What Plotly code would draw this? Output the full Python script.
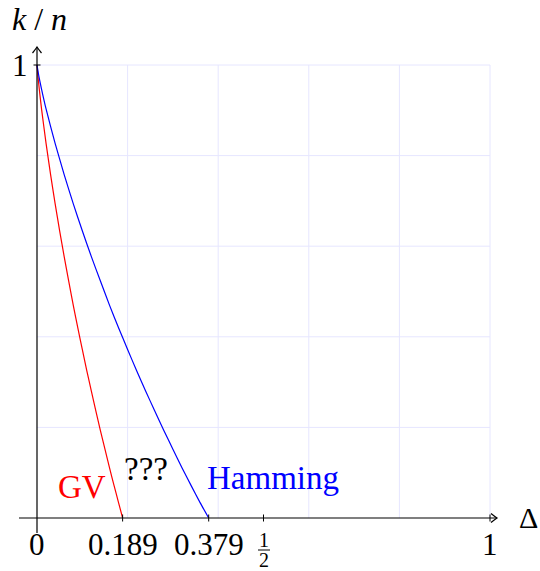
import plotly.graph_objects as go

# ---- data ----
gv_delta = [0, 0.002, 0.005, 0.01, 0.02, 0.03, 0.04, 0.05, 0.06, 0.07, 0.08, 0.09,
            0.10, 0.11, 0.12, 0.13, 0.14, 0.15, 0.16, 0.17, 0.18, 0.189]
gv_rate = [1, 0.976, 0.947, 0.903, 0.827, 0.758, 0.694, 0.634, 0.577, 0.523, 0.470, 0.420,
           0.372, 0.325, 0.280, 0.236, 0.193, 0.152, 0.111, 0.072, 0.034, 0]

ham_delta = [0, 0.004, 0.01, 0.02, 0.04, 0.06, 0.08, 0.10, 0.12, 0.14, 0.16, 0.18,
             0.20, 0.22, 0.24, 0.26, 0.28, 0.30, 0.32, 0.34, 0.36, 0.379]
ham_rate = [1, 0.976, 0.947, 0.903, 0.827, 0.758, 0.694, 0.634, 0.577, 0.523, 0.470, 0.420,
            0.372, 0.325, 0.280, 0.236, 0.193, 0.152, 0.111, 0.072, 0.034, 0]

grid_vals = [0.2, 0.4, 0.6, 0.8, 1.0]
xtick_vals = [0, 0.189, 0.379, 1]
xtick_text = ["0", "0.189", "0.379", "1"]
half_tick = 0.5
ytick_vals = [1]
ytick_text = ["1"]

# ---- figure geometry (pixel -> data helpers) ----
W, H = 540, 571
X0PX, Y0PX, UNIT = 37, 518, 453


def px_x(p):
    return (p - X0PX) / UNIT


def px_y(p):
    return (Y0PX - p) / UNIT


FONT = "Liberation Serif"
GRID = "rgb(230,230,255)"
FS = 32

fig = go.Figure()
fig.add_trace(go.Scatter(x=gv_delta, y=gv_rate, mode="lines",
                         line=dict(color="#ff0000", width=1.2, shape="spline", smoothing=0.5),
                         hoverinfo="skip", showlegend=False))
fig.add_trace(go.Scatter(x=ham_delta, y=ham_rate, mode="lines",
                         line=dict(color="#0000ff", width=1.2, shape="spline", smoothing=0.5),
                         hoverinfo="skip", showlegend=False))

shapes = []
for g in grid_vals:
    shapes.append(dict(type="line", x0=g, x1=g, y0=0, y1=1, layer="below",
                       line=dict(color=GRID, width=1)))
    shapes.append(dict(type="line", x0=0, x1=1, y0=g, y1=g, layer="below",
                       line=dict(color=GRID, width=1)))

# axes
ax_line = dict(color="black", width=1.2)
x_tip = px_x(497)
y_tip = px_y(47)
shapes.append(dict(type="line", x0=px_x(19), x1=x_tip, y0=0, y1=0, layer="above", line=ax_line))
shapes.append(dict(type="line", x0=0, x1=0, y0=px_y(533), y1=y_tip, layer="above", line=ax_line))
a, b = 6 / UNIT, 4.5 / UNIT
shapes.append(dict(type="path", layer="above", line=ax_line,
                   path=f"M {x_tip - a},{b} Q {x_tip - a * 0.3},{b * 0.25} {x_tip},0 "
                        f"Q {x_tip - a * 0.3},{-b * 0.25} {x_tip - a},{-b}"))
shapes.append(dict(type="path", layer="above", line=ax_line,
                   path=f"M {-b},{y_tip - a} Q {-b * 0.25},{y_tip - a * 0.3} 0,{y_tip} "
                        f"Q {b * 0.25},{y_tip - a * 0.3} {b},{y_tip - a}"))

# ticks
t = 3.5 / UNIT
for v in xtick_vals[1:] + [half_tick]:
    shapes.append(dict(type="line", x0=v, x1=v, y0=-t, y1=t, layer="above",
                       line=dict(color="black", width=1)))
for v in ytick_vals:
    shapes.append(dict(type="line", x0=-t, x1=t, y0=v, y1=v, layer="above",
                       line=dict(color="black", width=1)))

# fraction bar for 1/2
shapes.append(dict(type="line", x0=px_x(258), x1=px_x(270), y0=px_y(550), y1=px_y(550),
                   layer="above", line=dict(color="black", width=1)))

annotations = []
for v, s in zip(xtick_vals, xtick_text):
    annotations.append(dict(x=v, y=px_y(544), text=s, showarrow=False,
                            xanchor="center", yanchor="middle",
                            font=dict(family=FONT, size=31, color="black")))
annotations.append(dict(x=half_tick, y=px_y(540), text="1", showarrow=False,
                        xanchor="center", yanchor="middle",
                        font=dict(family=FONT, size=20, color="black")))
annotations.append(dict(x=half_tick, y=px_y(560), text="2", showarrow=False,
                        xanchor="center", yanchor="middle",
                        font=dict(family=FONT, size=20, color="black")))
for v, s in zip(ytick_vals, ytick_text):
    annotations.append(dict(x=px_x(20), y=v, text=s, showarrow=False,
                            xanchor="center", yanchor="middle",
                            font=dict(family=FONT, size=31, color="black")))

annotations.append(dict(x=px_x(39), y=px_y(19), text="<i>k</i> / <i>n</i>", showarrow=False,
                        xanchor="center", yanchor="middle",
                        font=dict(family=FONT, size=FS, color="black")))
annotations.append(dict(x=px_x(517), y=px_y(517), text="Δ", showarrow=False,
                        xanchor="left", yanchor="middle",
                        font=dict(family=FONT, size=30, color="black")))
annotations.append(dict(x=px_x(82), y=px_y(487), text="GV", showarrow=False,
                        xanchor="center", yanchor="middle",
                        font=dict(family=FONT, size=33, color="#ff0000")))
annotations.append(dict(x=px_x(146), y=px_y(469), text="???", showarrow=False,
                        xanchor="center", yanchor="middle",
                        font=dict(family=FONT, size=33, color="black")))
annotations.append(dict(x=px_x(273), y=px_y(478), text="Hamming", showarrow=False,
                        xanchor="center", yanchor="middle",
                        font=dict(family=FONT, size=33, color="#0000ff")))

fig.update_layout(
    width=W, height=H,
    margin=dict(l=0, r=0, t=0, b=0),
    paper_bgcolor="white", plot_bgcolor="white",
    xaxis=dict(range=[px_x(0), px_x(W)], visible=False, fixedrange=True),
    yaxis=dict(range=[px_y(H), px_y(0)], visible=False, fixedrange=True),
    shapes=shapes, annotations=annotations,
    showlegend=False,
)

fig.write_html("out.html",
               config={"displayModeBar": False, "staticPlot": True},
               post_script="document.body.style.margin='0';"
                           "document.body.style.padding='0';"
                           "document.body.style.overflow='hidden';")
